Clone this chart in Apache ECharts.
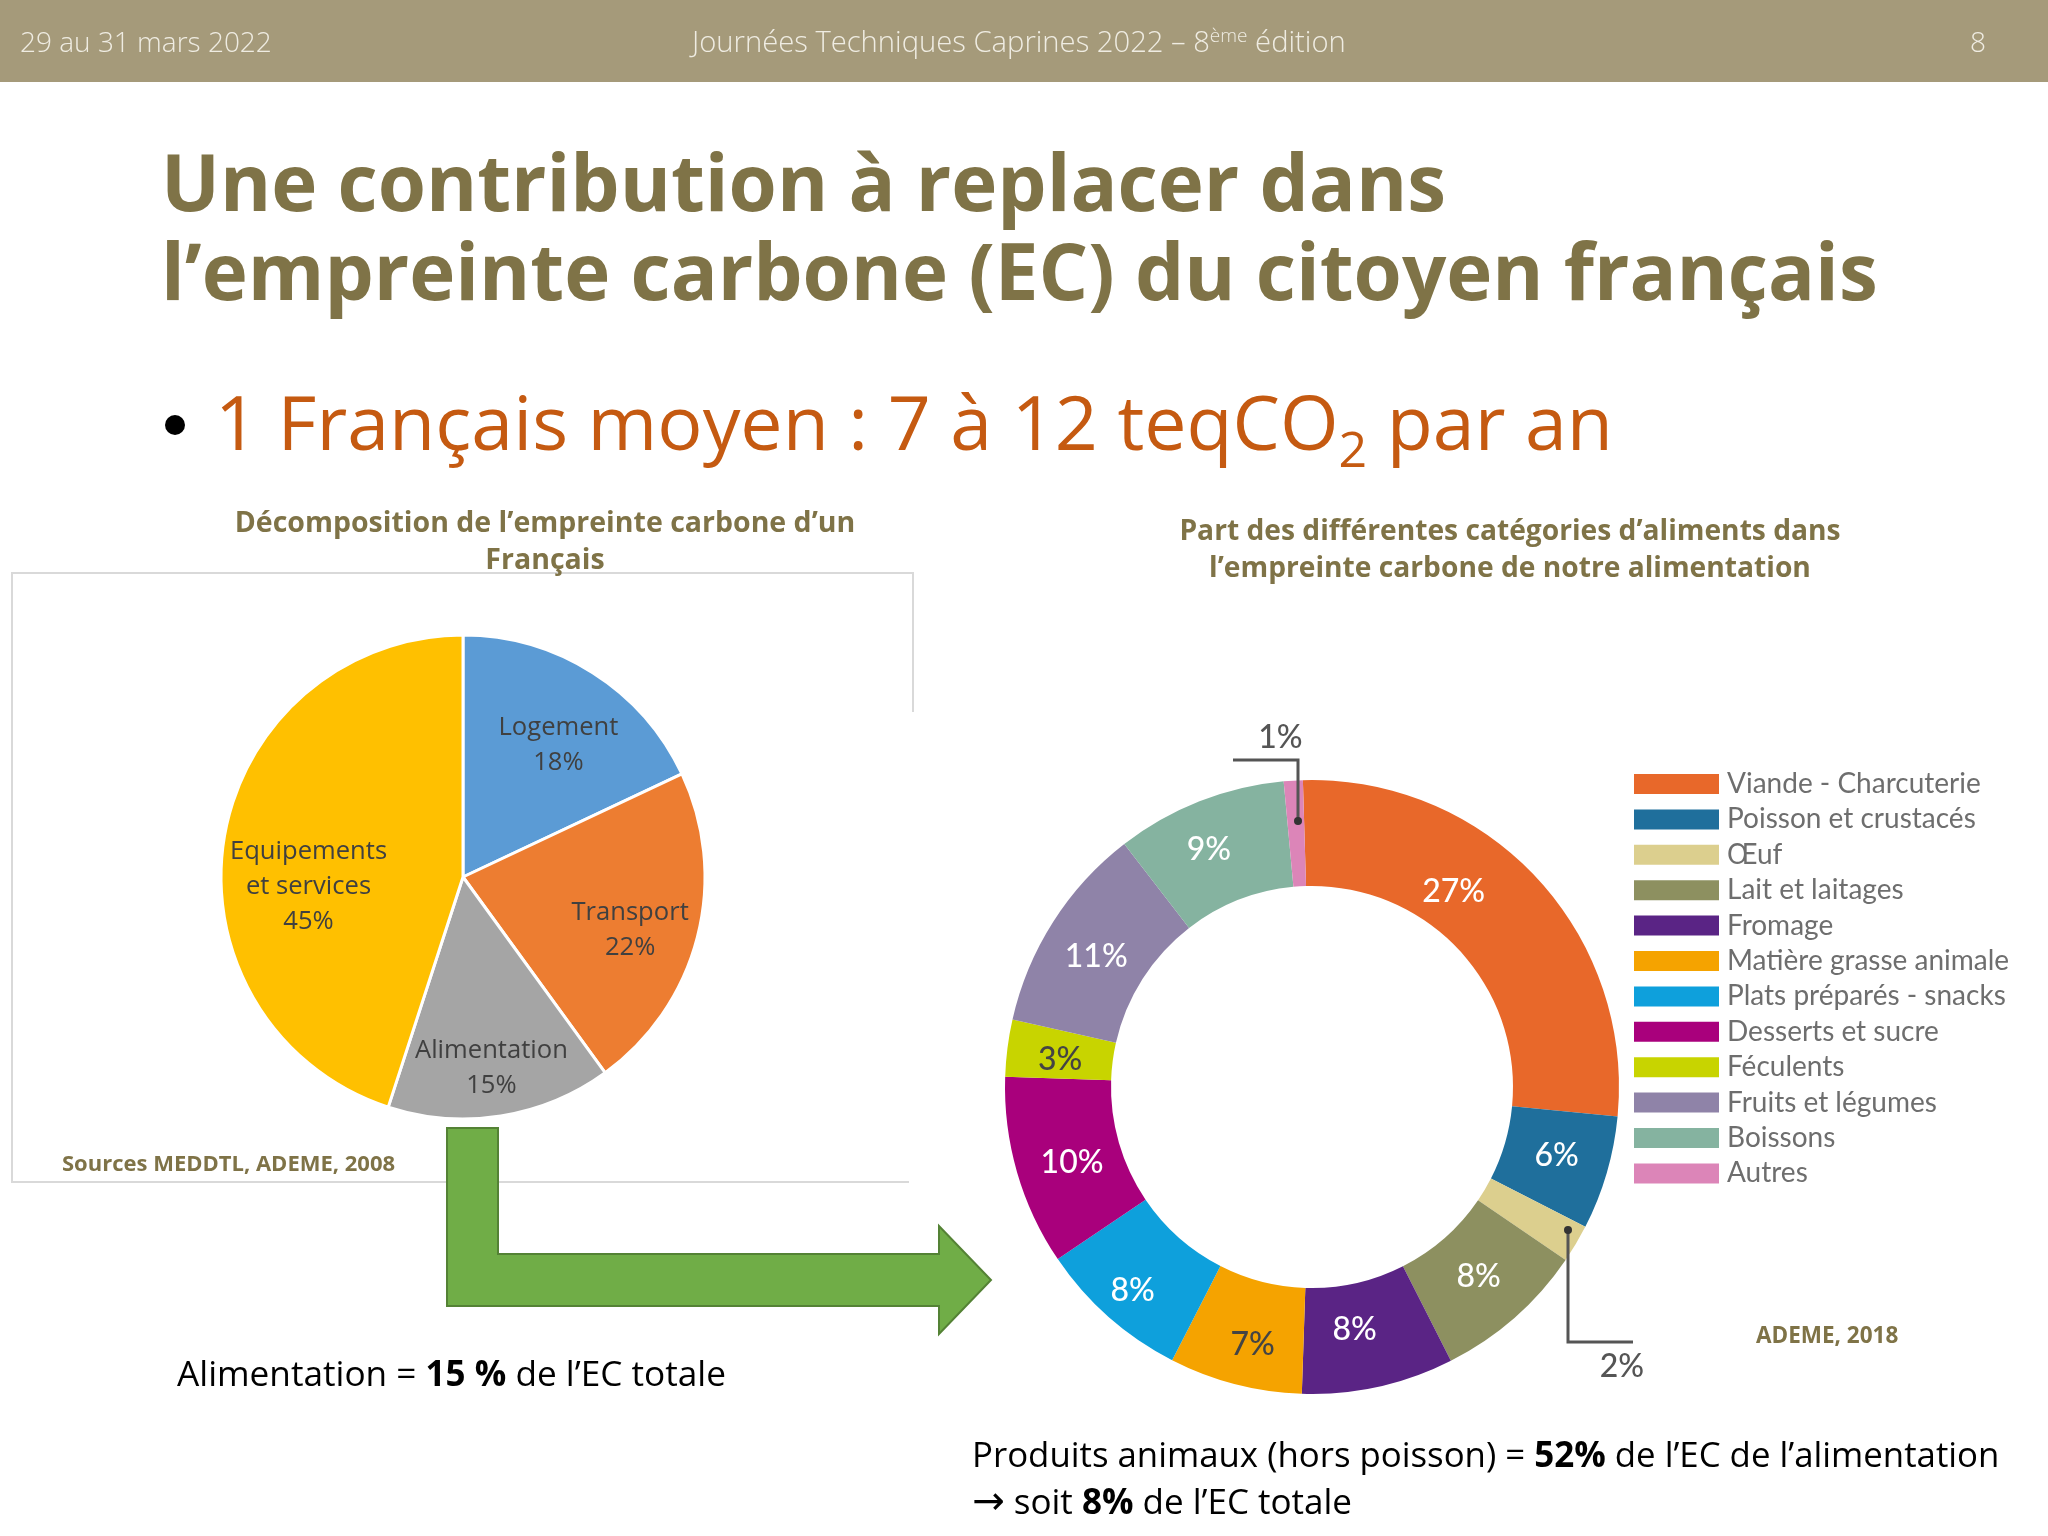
<!DOCTYPE html>
<html>
<head>
<meta charset="utf-8">
<style>html,body{margin:0;background:#fff}#main{width:2048px;height:1536px}</style>
<script src="https://cdn.jsdelivr.net/npm/echarts@6/dist/echarts.min.js"></script>
</head>
<body>
<div id="main"></div>
<script>
// pie: decomposition of a French person's carbon footprint
var pieNames = ['Logement', 'Transport', 'Alimentation', 'Equipements\net services'];
var pieValues = [18, 22, 15, 45];
var pieColors = ['#5b9bd5', '#ed7d31', '#a5a5a5', '#ffc000'];
var pieNudges = [[29, -27], [47, 22], [9, 69], [-32, 29]];

// donut: share of the food categories
var foodNames = ['Viande - Charcuterie', 'Poisson et crustacés', 'Œuf', 'Lait et laitages', 'Fromage', 'Matière grasse animale',
    'Plats préparés - snacks', 'Desserts et sucre', 'Féculents', 'Fruits et légumes', 'Boissons', 'Autres'];
var foodValues = [27, 6, 2, 8, 8, 7, 8, 10, 3, 11, 9, 1];
var foodColors = ['#e8682a', '#1f6f9c', '#dccf8e', '#8d9060', '#5a2485', '#f5a300', '#0ea0dc', '#a9007c', '#c8d400', '#8f83a8', '#85b3a0', '#dc85b8'];
var foodLabelColors = ['#fff', '#fff', '#555', '#fff', '#fff', '#444', '#fff', '#fff', '#444', '#fff', '#fff', '#555'];
var foodNudges = [[-46, -20], [-2, -3], [89, 148], [-3, -3], [-13, -8], [5, 9], [-9, 11], [7, 4], [3, 5], [1, 8], [-9, 2], [-16, -93]];

var FONT = '"Open Sans", sans-serif';
var OLIVE = '#7f7347';

function text(x, y, t, size, color, extra) {
    var style = {text: t, x: x, y: y, fontFamily: FONT, fontSize: size,
        fontWeight: extra && extra.weight || 'normal', fill: color, align: 'left', verticalAlign: 'middle'};
    if (extra && extra.rich) style.rich = extra.rich;
    return {type: 'text', z: 10, style: style};
}

var blackRich = {
    b: {fontFamily: FONT, fontSize: 35, fontWeight: 'bold', fill: '#000'},
    a: {fontFamily: 'DejaVu Sans', fontSize: 39, fill: '#000'}
};

var myChart = echarts.init(document.getElementById('main'));

var option = {
    animation: false,
    backgroundColor: '#fff',
    title: [
        {text: 'Une contribution à replacer dans\nl’empreinte carbone (EC) du citoyen français', left: 161, top: 144,
            textStyle: {fontFamily: FONT, fontSize: 78, fontWeight: 'bold', color: OLIVE, lineHeight: 89}, padding: 0},
        {text: 'Décomposition de l’empreinte carbone d’un\nFrançais', left: 545, top: 505, textAlign: 'center',
            textStyle: {fontFamily: FONT, fontSize: 28.5, fontWeight: 'bold', color: OLIVE, lineHeight: 37, align: 'center'}, padding: 0},
        {text: 'Part des différentes catégories d’aliments dans\nl’empreinte carbone de notre alimentation', left: 1510, top: 513, textAlign: 'center',
            textStyle: {fontFamily: FONT, fontSize: 28.2, fontWeight: 'bold', color: OLIVE, lineHeight: 37, align: 'center'}, padding: 0}
    ],
    legend: {
        data: foodNames,
        orient: 'vertical',
        left: 1634,
        top: 770,
        padding: 0,
        icon: 'rect',
        itemWidth: 85,
        itemHeight: 20,
        itemGap: 7.4,
        selectedMode: false,
        textStyle: {fontFamily: 'Lato, sans-serif', fontSize: 28, color: '#6e6e6e', padding: [0, 0, 0, 3]}
    },
    series: [{
        name: 'Empreinte',
        type: 'pie',
        center: [463, 877],
        radius: [0, 242],
        startAngle: 90,
        clockwise: true,
        color: pieColors,
        itemStyle: {borderColor: '#fff', borderWidth: 3},
        label: {position: 'inside', formatter: '{b}\n{c}%', fontFamily: FONT, fontSize: 25.6, lineHeight: 35, color: '#404040'},
        labelLine: {show: false},
        labelLayout: function (p) { return {dx: pieNudges[p.dataIndex][0], dy: pieNudges[p.dataIndex][1]}; },
        data: pieNames.map(function (n, i) { return {name: n, value: pieValues[i]}; })
    }, {
        name: 'Alimentation',
        type: 'pie',
        center: [1312, 1087],
        radius: [201, 307],
        startAngle: 91.7,
        clockwise: true,
        color: foodColors,
        label: {position: 'inside', formatter: '{c}%', fontFamily: 'Lato, sans-serif', fontSize: 32, fontWeight: 500},
        labelLine: {show: false},
        labelLayout: function (p) { return {dx: foodNudges[p.dataIndex][0], dy: foodNudges[p.dataIndex][1]}; },
        data: foodNames.map(function (n, i) {
            return {name: n, value: foodValues[i], label: {color: foodLabelColors[i]}};
        })
    }],
    graphic: [
        // header band
        {type: 'rect', z: 1, shape: {x: 0, y: 0, width: 2048, height: 82}, style: {fill: '#a59a7a'}},
        text(20, 44, '29 au 31 mars 2022', 28, '#efece2', {weight: 300}),
        text(692, 44, 'Journées Techniques Caprines 2022 – 8{s|ème} édition', 29.2, '#efece2', {weight: 300, rich: {s: {fontFamily: FONT, fontSize: 19, fontWeight: 300, fill: '#efece2', verticalAlign: 'top', lineHeight: 34}}}),
        text(1970, 44, '8', 28, '#efece2', {weight: 300}),
        // bullet line
        {type: 'circle', z: 10, shape: {cx: 175, cy: 425, r: 10}, style: {fill: '#000'}},
        text(215, 429, '1 Français moyen : 7 à 12 teqCO{sub|2} par an', 75.3, '#c55a11', {rich: {sub: {fontFamily: FONT, fontSize: 50, fill: '#c55a11', verticalAlign: 'bottom', lineHeight: 98}}}),
        // frame around the pie, open at the right
        {type: 'polyline', z: 1, shape: {points: [[913, 712], [913, 573], [12, 573], [12, 1182], [909, 1182]]}, style: {stroke: '#d9d9d9', lineWidth: 2, fill: null}},
        text(62, 1165, 'Sources MEDDTL, ADEME, 2008', 22, OLIVE, {weight: 'bold'}),
        text(1756, 1337, 'ADEME, 2018', 22.5, OLIVE, {weight: 'bold'}),
        // green arrow
        {type: 'polygon', z: 5, shape: {points: [[447, 1128], [498, 1128], [498, 1254], [939, 1254], [939, 1226], [991, 1280], [939, 1334], [939, 1306], [447, 1306]]},
            style: {fill: '#70ad47', stroke: '#548235', lineWidth: 2}},
        // leader lines of the two small slices
        {type: 'polyline', z: 10, shape: {points: [[1298, 821], [1298, 760], [1233, 760]]}, style: {stroke: '#555', lineWidth: 3, fill: null}},
        {type: 'circle', z: 10, shape: {cx: 1298, cy: 821, r: 4}, style: {fill: '#333'}},
        {type: 'polyline', z: 10, shape: {points: [[1568, 1230], [1568, 1342], [1633, 1342]]}, style: {stroke: '#555', lineWidth: 3, fill: null}},
        {type: 'circle', z: 10, shape: {cx: 1568, cy: 1230, r: 4}, style: {fill: '#333'}},
        // conclusions
        text(177, 1376, 'Alimentation = {b|15 %} de l’EC totale', 35.2, '#000', {rich: blackRich}),
        text(972, 1457, 'Produits animaux (hors poisson) = {b|52%} de l’EC de l’alimentation', 34.8, '#000', {rich: blackRich}),
        text(972, 1504, '{a|→} soit {b|8%} de l’EC totale', 35, '#000', {rich: blackRich})
    ]
};
myChart.setOption(option);
</script>
</body>
</html>
